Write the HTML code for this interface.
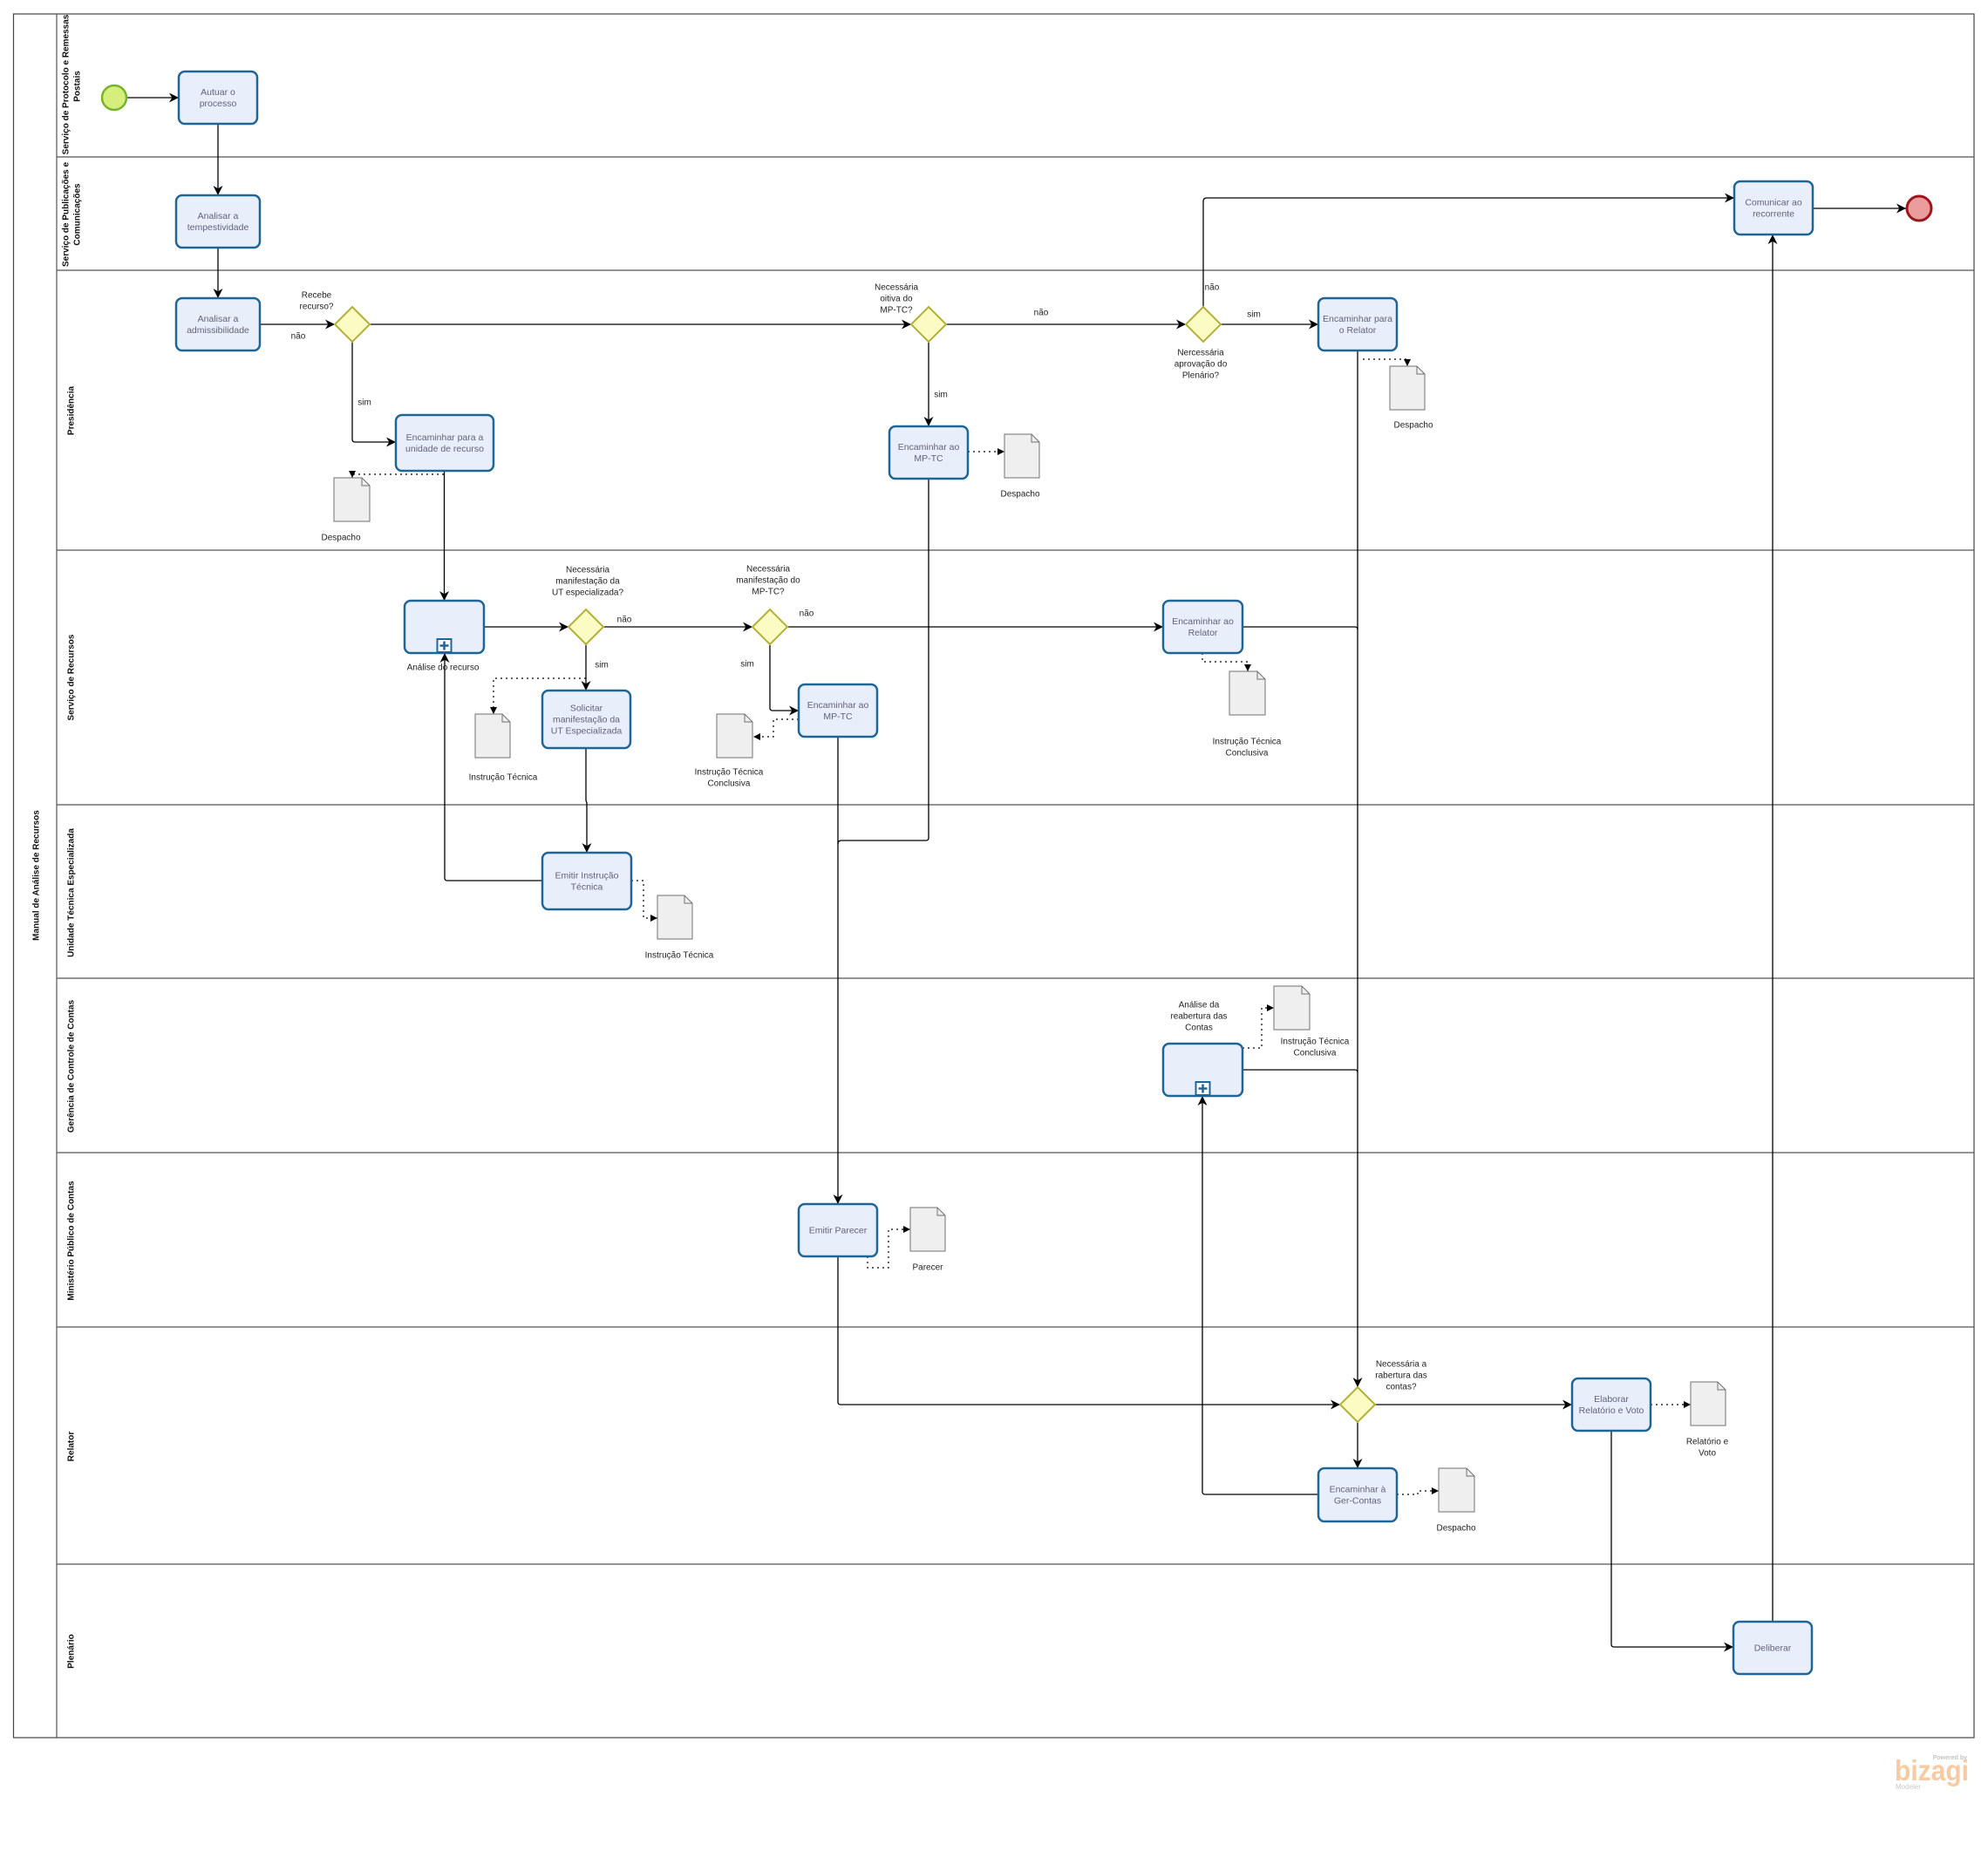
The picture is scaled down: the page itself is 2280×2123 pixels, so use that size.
<!DOCTYPE html>
<html>
<head>
<meta charset="utf-8">
<style>
html,body{margin:0;padding:0;background:#fff;}
svg{display:block;}
text{font-family:"Liberation Sans",sans-serif;}
.lane{font-size:10px;font-weight:bold;fill:#111;}
.tk{font-size:10.5px;fill:#62627a;text-anchor:middle;}
.lb{font-size:10px;fill:#222;text-anchor:middle;}
.task{fill:#e9eefb;stroke:#1f6596;stroke-width:2.5;}
.gw{fill:#fbfbc4;stroke:#b1b13a;stroke-width:2;}
.doc{fill:#efefef;stroke:#707070;stroke-width:1;}
.fl{fill:none;stroke:#000;stroke-width:1.3;}
.as{fill:none;stroke:#000;stroke-width:1.2;stroke-dasharray:2,4;}
.ln{stroke:#555;stroke-width:1.2;}
</style>
</head>
<body>
<svg width="2280" height="2123" viewBox="0 0 2280 2123" xmlns="http://www.w3.org/2000/svg">
<defs>
<marker id="a" viewBox="0 0 10 10" refX="10" refY="5" markerWidth="11" markerHeight="11" markerUnits="userSpaceOnUse" orient="auto">
<path d="M0,0 L10,5 L0,10 L3,5 z" fill="#000"/>
</marker>
<marker id="d" viewBox="0 0 8 8" refX="8" refY="4" markerWidth="8" markerHeight="8" markerUnits="userSpaceOnUse" orient="auto">
<path d="M0,0 L8,4 L0,8 z" fill="#000"/>
</marker>
</defs>
<rect x="0" y="0" width="2280" height="2123" fill="#fff"/>

<!-- Pool -->
<rect x="15.5" y="16" width="2248.5" height="1977" fill="none" stroke="#444" stroke-width="1.2"/>
<line x1="65" y1="16" x2="65" y2="1993" class="ln"/>
<line x1="65" y1="180" x2="2264" y2="180" class="ln"/>
<line x1="65" y1="310" x2="2264" y2="310" class="ln"/>
<line x1="65" y1="631" x2="2264" y2="631" class="ln"/>
<line x1="65" y1="923" x2="2264" y2="923" class="ln"/>
<line x1="65" y1="1122" x2="2264" y2="1122" class="ln"/>
<line x1="65" y1="1322" x2="2264" y2="1322" class="ln"/>
<line x1="65" y1="1522" x2="2264" y2="1522" class="ln"/>
<line x1="65" y1="1794" x2="2264" y2="1794" class="ln"/>

<!-- Pool & lane labels -->
<text class="lane" text-anchor="middle" transform="translate(44.5,1004) rotate(-90)">Manual de Análise de Recursos</text>
<text class="lane" text-anchor="middle" transform="translate(78.5,97) rotate(-90)">Serviço de Protocolo e Remessas</text>
<text class="lane" text-anchor="middle" transform="translate(91.5,99) rotate(-90)">Postais</text>
<text class="lane" text-anchor="middle" transform="translate(78.5,246) rotate(-90)">Serviço de Publicações e</text>
<text class="lane" text-anchor="middle" transform="translate(91.5,246) rotate(-90)">Comunicações</text>
<text class="lane" text-anchor="middle" transform="translate(84.5,471) rotate(-90)">Presidência</text>
<text class="lane" text-anchor="middle" transform="translate(84.5,777) rotate(-90)">Serviço de Recursos</text>
<text class="lane" text-anchor="middle" transform="translate(84.5,1024) rotate(-90)">Unidade Técnica Especializada</text>
<text class="lane" text-anchor="middle" transform="translate(84.5,1223) rotate(-90)">Gerência de Controle de Contas</text>
<text class="lane" text-anchor="middle" transform="translate(84.5,1423) rotate(-90)">Ministério Público de Contas</text>
<text class="lane" text-anchor="middle" transform="translate(84.5,1659) rotate(-90)">Relator</text>
<text class="lane" text-anchor="middle" transform="translate(84.5,1894) rotate(-90)">Plenário</text>

<!-- Sequence flows -->
<path class="fl" d="M146,112 H205" marker-end="url(#a)"/>
<path class="fl" d="M250,142 V224" marker-end="url(#a)"/>
<path class="fl" d="M250,284 V342" marker-end="url(#a)"/>
<path class="fl" d="M298,372 H384" marker-end="url(#a)"/>
<path class="fl" d="M424,372 H1045" marker-end="url(#a)"/>
<path class="fl" d="M404,392 V504 Q404,507 407,507 H454" marker-end="url(#a)"/>
<path class="fl" d="M509.5,540 V689" marker-end="url(#a)"/>
<path class="fl" d="M1085,372 H1360" marker-end="url(#a)"/>
<path class="fl" d="M1065,392 V489" marker-end="url(#a)"/>
<path class="fl" d="M1400,372 H1512" marker-end="url(#a)"/>
<path class="fl" d="M1380,352 V231 Q1380,227 1384,227 H1989" marker-end="url(#a)"/>
<path class="fl" d="M2079,239 H2186" marker-end="url(#a)"/>
<path class="fl" d="M555,719 H652" marker-end="url(#a)"/>
<path class="fl" d="M692,719 H863" marker-end="url(#a)"/>
<path class="fl" d="M672,739 V792" marker-end="url(#a)"/>
<path class="fl" d="M903,719 H1334" marker-end="url(#a)"/>
<path class="fl" d="M883,739 V812 Q883,815 886,815 H916" marker-end="url(#a)"/>
<path class="fl" d="M672,858 V918 L673,921 V978" marker-end="url(#a)"/>
<path class="fl" d="M622,1010 H513 Q510,1010 510,1007 V749" marker-end="url(#a)"/>
<path class="fl" d="M961,845 V1381" marker-end="url(#a)"/>
<path class="fl" d="M1065,549 V961 Q1065,964 1062,964 H965 Q961,964 961,968"/>
<path class="fl" d="M1425,719 H1554 Q1557,719 1557,722"/>
<path class="fl" d="M1557,402 V1591" marker-end="url(#a)"/>
<path class="fl" d="M1425,1227 H1554 Q1557,1227 1557,1230"/>
<path class="fl" d="M961,1441 V1608 Q961,1611 964,1611 H1537" marker-end="url(#a)"/>
<path class="fl" d="M1577,1611 H1803" marker-end="url(#a)"/>
<path class="fl" d="M1557,1631 V1684" marker-end="url(#a)"/>
<path class="fl" d="M1512,1714 H1382 Q1379,1714 1379,1711 V1257" marker-end="url(#a)"/>
<path class="fl" d="M1848,1641 V1886 Q1848,1889 1851,1889 H1988" marker-end="url(#a)"/>
<path class="fl" d="M2033,1860 V269" marker-end="url(#a)"/>

<!-- Associations -->
<path class="as" d="M509,544 H404 V548" marker-end="url(#d)"/>
<path class="as" d="M1110,518 H1152" marker-end="url(#d)"/>
<path class="as" d="M1563,412 H1614 V420" marker-end="url(#d)"/>
<path class="as" d="M672,778 H566 V819" marker-end="url(#d)"/>
<path class="as" d="M916,825 H887 V845 H864" marker-end="url(#d)"/>
<path class="as" d="M1379,749 V759 H1431 V770" marker-end="url(#d)"/>
<path class="as" d="M724,1010 H738 V1053 H754" marker-end="url(#d)"/>
<path class="as" d="M1425,1202 H1447 V1156 H1461" marker-end="url(#d)"/>
<path class="as" d="M995,1441 V1454 H1019 V1410 H1044" marker-end="url(#d)"/>
<path class="as" d="M1893,1611 H1939" marker-end="url(#d)"/>
<path class="as" d="M1602,1714 H1626 V1710 H1650" marker-end="url(#d)"/>

<!-- Events -->
<circle cx="131" cy="112" r="14" fill="#d5ef7c" stroke="#79b22e" stroke-width="2.5"/>
<circle cx="2201" cy="239" r="14" fill="#eb9c9c" stroke="#a0141e" stroke-width="3"/>

<!-- Tasks -->
<rect class="task" x="205" y="82" width="90" height="60" rx="7"/>
<text class="tk" x="250" y="109.2">Autuar o</text><text class="tk" x="250" y="122.2">processo</text>

<rect class="task" x="202" y="224" width="96" height="60" rx="7"/>
<text class="tk" x="250" y="251.2">Analisar a</text><text class="tk" x="250" y="264.2">tempestividade</text>

<rect class="task" x="202" y="342" width="96" height="60" rx="7"/>
<text class="tk" x="250" y="369.2">Analisar a</text><text class="tk" x="250" y="382.2">admissibilidade</text>

<rect class="task" x="454" y="476" width="112" height="64" rx="7"/>
<text class="tk" x="510" y="505.2">Encaminhar para a</text><text class="tk" x="510" y="518.2">unidade de recurso</text>

<rect class="task" x="1020" y="489" width="90" height="60" rx="7"/>
<text class="tk" x="1065" y="516.2">Encaminhar ao</text><text class="tk" x="1065" y="529.2">MP-TC</text>

<rect class="task" x="1512" y="342" width="90" height="60" rx="7"/>
<text class="tk" x="1557" y="369.2">Encaminhar para</text><text class="tk" x="1557" y="382.2">o Relator</text>

<rect class="task" x="1989" y="208" width="90" height="61" rx="7"/>
<text class="tk" x="2034" y="235.7">Comunicar ao</text><text class="tk" x="2034" y="248.7">recorrente</text>

<rect class="task" x="464" y="689" width="91" height="60" rx="7"/>
<rect x="501.5" y="733" width="16" height="15" fill="#fff" stroke="#1f6596" stroke-width="2"/>
<path d="M509.5,735.5 V745.5 M504.5,740.5 H514.5" stroke="#1f6596" stroke-width="2.5"/>

<rect class="task" x="622" y="792" width="101" height="66" rx="7"/>
<text class="tk" x="672.5" y="815.7">Solicitar</text><text class="tk" x="672.5" y="828.7">manifestação da</text><text class="tk" x="672.5" y="841.7">UT Especializada</text>

<rect class="task" x="916" y="785" width="90" height="60" rx="7"/>
<text class="tk" x="961" y="812.2">Encaminhar ao</text><text class="tk" x="961" y="825.2">MP-TC</text>

<rect class="task" x="1334" y="689" width="91" height="60" rx="7"/>
<text class="tk" x="1379.5" y="716.2">Encaminhar ao</text><text class="tk" x="1379.5" y="729.2">Relator</text>

<rect class="task" x="622" y="978" width="102" height="65" rx="7"/>
<text class="tk" x="673" y="1007.7">Emitir Instrução</text><text class="tk" x="673" y="1020.7">Técnica</text>

<rect class="task" x="1334" y="1197" width="91" height="60" rx="7"/>
<rect x="1371.5" y="1241" width="16" height="15" fill="#fff" stroke="#1f6596" stroke-width="2"/>
<path d="M1379.5,1243.5 V1253.5 M1374.5,1248.5 H1384.5" stroke="#1f6596" stroke-width="2.5"/>

<rect class="task" x="916" y="1381" width="90" height="60" rx="7"/>
<text class="tk" x="961" y="1414.7">Emitir Parecer</text>

<rect class="task" x="1803" y="1581" width="90" height="60" rx="7"/>
<text class="tk" x="1848" y="1608.2">Elaborar</text><text class="tk" x="1848" y="1621.2">Relatório e Voto</text>

<rect class="task" x="1512" y="1684" width="90" height="61" rx="7"/>
<text class="tk" x="1557" y="1711.7">Encaminhar à</text><text class="tk" x="1557" y="1724.7">Ger-Contas</text>

<rect class="task" x="1988" y="1860" width="90" height="60" rx="7"/>
<text class="tk" x="2033" y="1893.7">Deliberar</text>

<!-- Gateways -->
<path class="gw" d="M404,352 L424,372 L404,392 L384,372 Z"/>
<path class="gw" d="M1065,352 L1085,372 L1065,392 L1045,372 Z"/>
<path class="gw" d="M1380,352 L1400,372 L1380,392 L1360,372 Z"/>
<path class="gw" d="M672,699 L692,719 L672,739 L652,719 Z"/>
<path class="gw" d="M883,699 L903,719 L883,739 L863,719 Z"/>
<path class="gw" d="M1557,1591 L1577,1611 L1557,1631 L1537,1611 Z"/>

<!-- Documents -->
<g class="doc">
<path d="M383,548 H415 L424,557 V598 H383 Z"/>
<path d="M1152,498 H1183 L1192,507 V548 H1152 Z"/>
<path d="M1594,420 H1625 L1634,429 V470 H1594 Z"/>
<path d="M545,819 H576 L585,828 V869 H545 Z"/>
<path d="M822,819 H854 L863,828 V869 H822 Z"/>
<path d="M1410,770 H1442 L1451,779 V820 H1410 Z"/>
<path d="M754,1027 H785 L794,1036 V1077 H754 Z"/>
<path d="M1461,1131 H1493 L1502,1140 V1181 H1461 Z"/>
<path d="M1044,1385 H1075 L1084,1394 V1435 H1044 Z"/>
<path d="M1939,1585 H1970 L1979,1594 V1635 H1939 Z"/>
<path d="M1650,1684 H1682 L1691,1693 V1734 H1650 Z"/>
</g>
<g fill="none" stroke="#707070" stroke-width="1">
<path d="M415,548 V557 H424"/>
<path d="M1183,498 V507 H1192"/>
<path d="M1625,420 V429 H1634"/>
<path d="M576,819 V828 H585"/>
<path d="M854,819 V828 H863"/>
<path d="M1442,770 V779 H1451"/>
<path d="M785,1027 V1036 H794"/>
<path d="M1493,1131 V1140 H1502"/>
<path d="M1075,1385 V1394 H1084"/>
<path d="M1970,1585 V1594 H1979"/>
<path d="M1682,1684 V1693 H1691"/>
</g>

<!-- Labels -->
<text class="lb" x="363" y="341.5">Recebe</text><text class="lb" x="363" y="354.5">recurso?</text>
<text class="lb" x="342" y="388.5">não</text>
<text class="lb" x="418" y="464.5">sim</text>

<text class="lb" x="1028" y="332.5">Necessária</text><text class="lb" x="1028" y="345.5">oitiva do</text><text class="lb" x="1028" y="358.5">MP-TC?</text>
<text class="lb" x="1194" y="361.5">não</text>
<text class="lb" x="1079" y="455.5">sim</text>

<text class="lb" x="1377" y="407.5">Nercessária</text><text class="lb" x="1377" y="420.5">aprovação do</text><text class="lb" x="1377" y="433.5">Plenário?</text>
<text class="lb" x="1390" y="332.5">não</text>
<text class="lb" x="1438" y="363.5">sim</text>

<text class="lb" x="674" y="656.5">Necessária</text><text class="lb" x="674" y="669.5">manifestação da</text><text class="lb" x="674" y="682.5">UT especializada?</text>
<text class="lb" x="716" y="713.5">não</text>
<text class="lb" x="690" y="765.5">sim</text>
<text class="lb" x="508" y="768.5">Análise do recurso</text>

<text class="lb" x="881" y="655.5">Necessária</text><text class="lb" x="881" y="668.5">manifestação do</text><text class="lb" x="881" y="681.5">MP-TC?</text>
<text class="lb" x="925" y="706.5">não</text>
<text class="lb" x="857" y="764.5">sim</text>

<text class="lb" x="1375" y="1155.5">Análise da</text><text class="lb" x="1375" y="1168.5">reabertura das</text><text class="lb" x="1375" y="1181.5">Contas</text>

<text class="lb" x="1607" y="1567.5">Necessária a</text><text class="lb" x="1607" y="1580.5">rabertura das</text><text class="lb" x="1607" y="1593.5">contas?</text>

<text class="lb" x="391" y="619.5">Despacho</text>
<text class="lb" x="1170" y="569.5">Despacho</text>
<text class="lb" x="1621" y="490.5">Despacho</text>
<text class="lb" x="577" y="894.5">Instrução Técnica</text>
<text class="lb" x="836" y="888.5">Instrução Técnica</text><text class="lb" x="836" y="901.5">Conclusiva</text>
<text class="lb" x="1430" y="853.5">Instrução Técnica</text><text class="lb" x="1430" y="866.5">Conclusiva</text>
<text class="lb" x="779" y="1098.5">Instrução Técnica</text>
<text class="lb" x="1508" y="1197.5">Instrução Técnica</text><text class="lb" x="1508" y="1210.5">Conclusiva</text>
<text class="lb" x="1064" y="1456.5">Parecer</text>
<text class="lb" x="1958" y="1656.5">Relatório e</text><text class="lb" x="1958" y="1669.5">Voto</text>
<text class="lb" x="1670" y="1755.5">Despacho</text>

<!-- Bizagi logo -->
<text x="2256" y="2018" font-size="7" font-weight="bold" fill="#c4c4c4" text-anchor="end">Powered by</text>
<text x="2173" y="2042" font-size="33" font-weight="bold" fill="#f6caa2" textLength="85" lengthAdjust="spacingAndGlyphs">bizagi</text>
<text x="2174" y="2052" font-size="8" fill="#c8c8c8">Modeler</text>
</svg>
</body>
</html>
